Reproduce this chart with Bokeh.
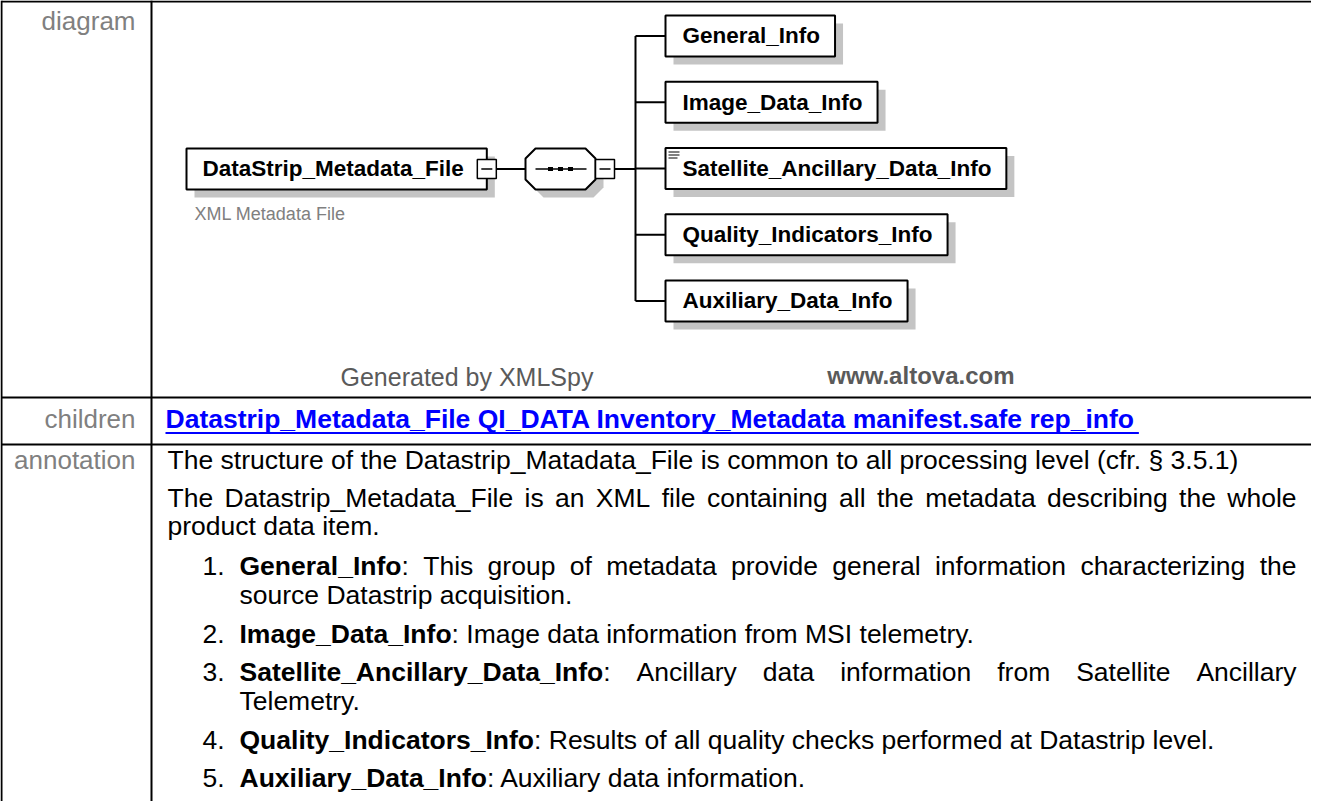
import string
from bokeh.plotting import figure
from bokeh.models import Range1d
from bokeh.core.properties import value
from bokeh.embed import file_html
from bokeh.resources import INLINE

# ---------------- content ----------------
row_labels = ["diagram", "children", "annotation"]
root_name = "DataStrip_Metadata_File"
root_note = "XML Metadata File"
child_names = ["General_Info", "Image_Data_Info", "Satellite_Ancillary_Data_Info",
               "Quality_Indicators_Info", "Auxiliary_Data_Info"]
footer_left = "Generated by XMLSpy"
footer_right = "www.altova.com"
children_links = "Datastrip_Metadata_File QI_DATA Inventory_Metadata manifest.safe rep_info"
intro_1 = "The structure of the Datastrip_Matadata_File is common to all processing level (cfr. \u00a7 3.5.1)"
intro_2 = ["The Datastrip_Metadata_File is an XML file containing all the metadata describing the whole",
           "product data item."]
item_numbers = ["1.", "2.", "3.", "4.", "5."]
item_texts = [
    [": This group of metadata provide general information characterizing the", "source Datastrip acquisition."],
    [": Image data information from MSI telemetry."],
    [": Ancillary data information from Satellite Ancillary", "Telemetry."],
    [": Results of all quality checks performed at Datastrip level."],
    [": Auxiliary data information."],
]
item_justified = [True, False, True, False, False]

# ---------------- font metrics (Arial / Liberation Sans, per 1000 em) ----------------
REG = {' ': 278, '.': 278, ',': 278, ':': 278, ';': 278, '_': 556, '(': 333, ')': 333, '\u00a7': 556, '-': 333}
REG.update({d: 556 for d in string.digits})
REG.update(dict(zip(string.ascii_uppercase, [667, 667, 722, 722, 667, 611, 778, 722, 278, 500, 667, 556, 833,
                                             722, 778, 667, 778, 722, 667, 611, 722, 667, 944, 667, 667, 611])))
REG.update(dict(zip(string.ascii_lowercase, [556, 556, 500, 556, 556, 278, 556, 556, 222, 222, 500, 222, 833,
                                             556, 556, 556, 556, 333, 500, 278, 556, 500, 722, 500, 500, 500])))
BOLD = {' ': 278, '.': 278, ',': 278, ':': 333, ';': 333, '_': 556, '(': 333, ')': 333, '\u00a7': 556, '-': 333}
BOLD.update({d: 556 for d in string.digits})
BOLD.update(dict(zip(string.ascii_uppercase, [722, 722, 722, 722, 667, 611, 778, 722, 278, 556, 722, 611, 833,
                                              722, 778, 667, 778, 722, 667, 611, 722, 667, 944, 667, 667, 611])))
BOLD.update(dict(zip(string.ascii_lowercase, [556, 611, 556, 611, 556, 333, 611, 611, 278, 278, 556, 278, 889,
                                              611, 611, 611, 611, 389, 556, 333, 611, 556, 778, 556, 556, 500])))


def tw(s, bold, size):
    tab = BOLD if bold else REG
    return sum(tab.get(c, 556) for c in s) * size / 1000.0


def words_of(segs):
    words, cur = [], []
    for t, b in segs:
        parts = t.split(' ')
        for i, part in enumerate(parts):
            if i > 0 and cur:
                words.append(cur)
                cur = []
            if part:
                cur.append((part, b))
    if cur:
        words.append(cur)
    return words


def layout(segs, x0, x1, y, size, justify):
    out = []
    if not justify:
        x = x0
        for t, b in segs:
            out.append((x, y, t, b))
            x += tw(t, b, size)
        return out
    words = words_of(segs)
    widths = [sum(tw(t, b, size) for t, b in w) for w in words]
    gap = (x1 - x0 - sum(widths)) / (len(words) - 1)
    x = x0
    for w, wd in zip(words, widths):
        xx = x
        for t, b in w:
            out.append((xx, y, t, b))
            xx += tw(t, b, size)
        x += wd + gap
    return out


# ---------------- figure ----------------
W, H = 1311, 801
p = figure(width=W, height=H, x_range=Range1d(8, 8 + W), y_range=Range1d(8 + H, 8),
           output_backend="svg", toolbar_location=None, min_border=0,
           x_axis_location=None, y_axis_location=None, title=None)
p.outline_line_color = None
p.grid.visible = False
p.background_fill_color = "white"
p.border_fill_color = "white"

FONT = value("Liberation Sans")
BASE_FIX = 0.36   # empirical offset of the rendered alphabetic baseline (in em)


def text(xs, ys, ts, size, bold=False, color="#000000", align="left"):
    ys = [y - BASE_FIX * size for y in ys]
    p.text(x=xs, y=ys, text=ts, text_font=FONT, text_font_size=value(f"{size}px"),
           text_font_style="bold" if bold else "normal", text_color=color,
           text_align=align, text_baseline="alphabetic")


# ---------------- table grid ----------------
p.segment(x0=[9, 9, 159, 9, 9], y0=[9, 8, 8, 405, 452],
          x1=[1319, 9, 159, 1319, 1319], y1=[9, 809, 809, 405, 452],
          line_color="#000000", line_width=2)

text([143, 143, 143], [38, 436, 477], row_labels, 26, color="#808080", align="right")

# ---------------- diagram ----------------
BOX_FS = 22.5
SH = 8
SHADOW = "#c4c4c4"
top, bot, cy = 156, 197, 176.5

root_l = 194
root_tx = 210
root_r = root_tx + tw(root_name, True, BOX_FS) + 23

oct_l, oct_r, cut = 533, 603, 10
trunk_x, child_l, child_tx = 643, 673, 690
child_cy = [43.5 + i * 66.25 for i in range(len(child_names))]
child_r = [child_tx + tw(n, True, BOX_FS) + 15 for n in child_names]
half = 20.5


def octagon(l, r, t, b, c):
    return ([l + c, r - c, r, r, r - c, l + c, l, l],
            [t, t, t + c, b - c, b, b, b - c, t + c])


# shadows
p.quad(left=[root_l + SH] + [child_l + SH] * 5,
       right=[root_r + SH] + [r + SH for r in child_r],
       top=[top + SH] + [c - half + SH for c in child_cy],
       bottom=[bot + SH] + [c + half + SH for c in child_cy],
       fill_color=SHADOW, line_color=None)
ox, oy = octagon(oct_l + SH, oct_r + SH, top + SH, bot + SH, cut)
p.patch(ox, oy, fill_color=SHADOW, line_color=None)

# connector lines
seg_x0 = [root_r + 9.5, oct_r + 19, trunk_x] + [trunk_x] * 5
seg_x1 = [oct_l, trunk_x, trunk_x] + [child_l] * 5
seg_y0 = [cy, cy, child_cy[0]] + child_cy
seg_y1 = [cy, cy, child_cy[-1]] + child_cy
p.segment(x0=seg_x0, y0=seg_y0, x1=seg_x1, y1=seg_y1, line_color="#000000", line_width=2)

# boxes
p.quad(left=[root_l] + [child_l] * 5, right=[root_r] + child_r,
       top=[top] + [c - half for c in child_cy], bottom=[bot] + [c + half for c in child_cy],
       fill_color="white", line_color="#000000", line_width=2)
ox, oy = octagon(oct_l, oct_r, top, bot, cut)
p.patch(ox, oy, fill_color="white", line_color="#000000", line_width=2)

# sequence symbol inside octagon
p.segment(x0=[oct_l + 10], y0=[cy], x1=[oct_r - 9], y1=[cy], line_color="#000000", line_width=1.5)
p.rect(x=[558, 568, 578], y=[cy] * 3, width=5, height=4, fill_color="#000000", line_color=None)

# collapse (minus) icons
mx = [root_r - 9.5, oct_r]
p.quad(left=mx, right=[m + 19 for m in mx], top=[167, 167], bottom=[186, 186],
       fill_color="white", line_color="#000000", line_width=1.5)
p.segment(x0=[m + 4 for m in mx], y0=[cy, cy], x1=[m + 15 for m in mx], y1=[cy, cy],
          line_color="#000000", line_width=1.5)

# documentation icon on the Satellite box
sy = child_cy[2] - half
p.segment(x0=[child_l + 3] * 3, y0=[sy + 4, sy + 7, sy + 10],
          x1=[child_l + 14, child_l + 14, child_l + 12], y1=[sy + 4, sy + 7, sy + 10],
          line_color="#000000", line_width=1.2)

text([root_tx], [cy + 8], [root_name], BOX_FS, bold=True)
text([child_tx] * 5, [c + 8 for c in child_cy], child_names, BOX_FS, bold=True)
text([202], [228], [root_note], 18, color="#808080")

text([348], [393], [footer_left], 25, color="#5a5a5a")
text([1022], [392], [footer_right], 24, bold=True, color="#5a5a5a", align="right")

# ---------------- children row ----------------
LINK_FS = 26.5
text([173], [436], [children_links], LINK_FS, bold=True, color="#0000ff")
lw = tw(children_links, True, LINK_FS)
p.segment(x0=[173], y0=[440.5], x1=[173 + lw], y1=[440.5], line_color="#0000ff", line_width=2)

# ---------------- annotation row ----------------
FS = 26.5
RIGHT = 1304
runs = []
runs += layout([(intro_1, False)], 175, RIGHT, 477, FS, False)
runs += layout([(intro_2[0], False)], 175, RIGHT, 515, FS, True)
runs += layout([(intro_2[1], False)], 175, RIGHT, 543, FS, False)

item_y = [583, 651, 689, 757, 795]
WRAP = 29
for num, name, lines, just, y in zip(item_numbers, child_names, item_texts, item_justified, item_y):
    runs.append((210, y, num, False))
    runs += layout([(name, True), (lines[0], False)], 247, RIGHT, y, FS, just)
    for k, extra in enumerate(lines[1:], start=1):
        runs += layout([(extra, False)], 247, RIGHT, y + k * WRAP, FS, False)

reg = [r for r in runs if not r[3]]
bld = [r for r in runs if r[3]]
text([r[0] for r in reg], [r[1] for r in reg], [r[2] for r in reg], FS)
text([r[0] for r in bld], [r[1] for r in bld], [r[2] for r in bld], FS, bold=True)

open("out.html", "w").write(file_html(p, INLINE))
